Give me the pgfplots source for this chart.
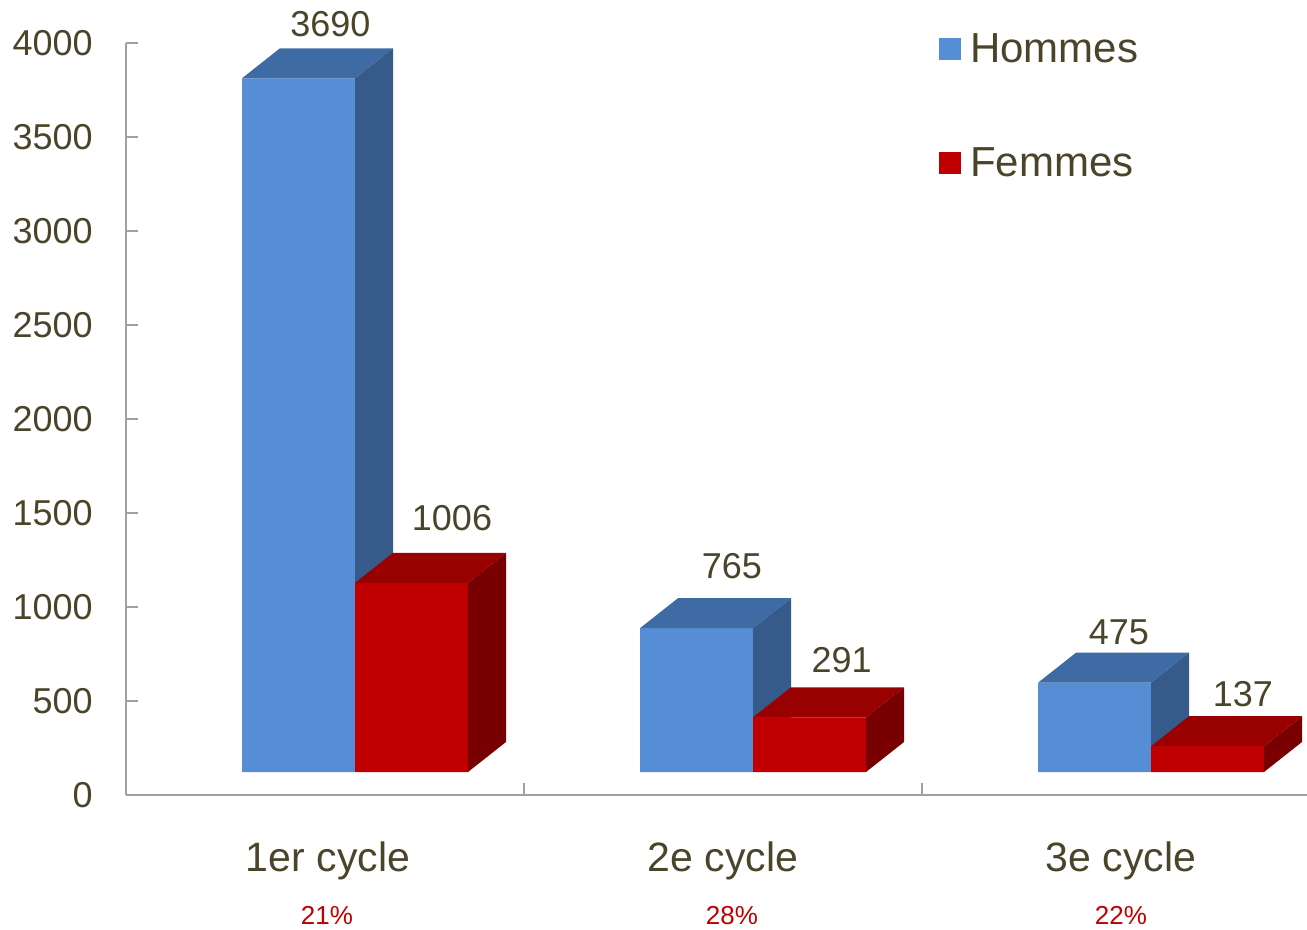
\documentclass[border=0pt]{standalone}
\usepackage{fontspec}
\setmainfont{Liberation Sans}
\usepackage{pgfplots}
\usepackage{pgfplotstable}
\pgfplotsset{compat=1.18}
\definecolor{hfront}{HTML}{558ED5}
\definecolor{htop}{HTML}{3F6BA5}
\definecolor{hside}{HTML}{365B8B}
\definecolor{ffront}{HTML}{C00000}
\definecolor{ftop}{HTML}{990000}
\definecolor{fside}{HTML}{780000}
\definecolor{textcol}{HTML}{4A452A}
\definecolor{axgray}{HTML}{A0A0A0}
\definecolor{pctred}{HTML}{C00000}

% values, and label offsets (pt) for the value labels
\pgfplotstableread{
x H F hdx hdy fdx fdy
0 3690 1006 2.65 27.3 63.5 32.55
1 765 291 4.4 30.95 59.35 28.65
2 475 137 -1.1 25.25 60.9 26.0
}\datatable

% 3D top and side faces, drawn at the top of each bar
\pgfdeclareplotmark{boxH}{%
  \pgfmathsetmacro\hh{\barh*0.094}%
  \pgfsetfillcolor{htop}%
  \pgfpathmoveto{\pgfpoint{-41.5pt}{0pt}}%
  \pgfpathlineto{\pgfpoint{15pt}{0pt}}%
  \pgfpathlineto{\pgfpoint{34pt}{15pt}}%
  \pgfpathlineto{\pgfpoint{-22.5pt}{15pt}}%
  \pgfpathclose\pgfusepath{fill}%
  \pgfsetfillcolor{hside}%
  \pgfpathmoveto{\pgfpoint{15pt}{0pt}}%
  \pgfpathlineto{\pgfpoint{34pt}{15pt}}%
  \pgfpathlineto{\pgfpoint{34pt}{15pt-\hh pt}}%
  \pgfpathlineto{\pgfpoint{15pt}{-\hh pt}}%
  \pgfpathclose\pgfusepath{fill}%
}
\pgfdeclareplotmark{boxF}{%
  \pgfmathsetmacro\hh{\barh*0.094}%
  \pgfsetfillcolor{ftop}%
  \pgfpathmoveto{\pgfpoint{15pt}{0pt}}%
  \pgfpathlineto{\pgfpoint{71.5pt}{0pt}}%
  \pgfpathlineto{\pgfpoint{90.5pt}{15pt}}%
  \pgfpathlineto{\pgfpoint{34pt}{15pt}}%
  \pgfpathclose\pgfusepath{fill}%
  \pgfsetfillcolor{fside}%
  \pgfpathmoveto{\pgfpoint{71.5pt}{0pt}}%
  \pgfpathlineto{\pgfpoint{90.5pt}{15pt}}%
  \pgfpathlineto{\pgfpoint{90.5pt}{15pt-\hh pt}}%
  \pgfpathlineto{\pgfpoint{71.5pt}{-\hh pt}}%
  \pgfpathclose\pgfusepath{fill}%
}

\begin{document}
\begin{tikzpicture}
\begin{axis}[
  name=ax,
  x=199pt, y=0.094pt,
  xmin=-0.5, xmax=2.467,
  ymin=-122.3, ymax=3877.7,
  clip=false,
  clip marker paths=true,
  axis lines*=left,
  axis line style={axgray, line width=1.2pt},
  tick align=inside,
  major tick length=6pt,
  tick style={axgray, line width=1pt},
  scaled y ticks=false,
  ytick={-122.3,377.7,877.7,1377.7,1877.7,2377.7,2877.7,3377.7,3877.7},
  yticklabels={0,500,1000,1500,2000,2500,3000,3500,4000},
  yticklabel style={font=\fontsize{18}{20}\selectfont, text=textcol, inner sep=0pt, xshift=-16.5pt},
  xtick={0.5,1.5}, xticklabels={},
  extra x ticks={0,1,2},
  extra x tick labels={{\hspace*{3pt}1er cycle\\{\fontsize{13}{15}\selectfont\color{pctred}\hspace*{2pt}21\%}},
                       {2e cycle\\{\fontsize{13}{15}\selectfont\color{pctred}\hspace*{9pt}28\%}},
                       {3e cycle\\{\fontsize{13}{15}\selectfont\color{pctred}22\%}}},
  extra x tick style={major tick length=0pt},
  xticklabel style={align=center, font=\fontsize{20.5}{26.5}\selectfont, text=textcol, anchor=north, inner sep=0pt, yshift=-23pt},
  /pgf/number format/1000 sep={},
  /pgf/number format/assume math mode=true,
  legend image code/.code={\fill[#1] (0pt,-5.5pt) rectangle (11pt,5.5pt);},
  legend style={draw=none, fill=none, at={(0.6833,1.0186)}, anchor=north west,
    font=\fontsize{21}{24}\selectfont, text=textcol, row sep=41pt, column sep=4.5pt,
    nodes={inner sep=0pt}},
  legend cell align=left,
]
% Hommes
\addplot[ybar, bar width=56.5pt, bar shift=-13.25pt, fill=hfront, draw=none, forget plot,
  visualization depends on={\thisrow{hdx} \as \ldx},
  visualization depends on={\thisrow{hdy} \as \ldy},
  nodes near coords,
  every node near coord/.append style={font=\fontsize{18}{20}\selectfont, text=textcol, anchor=center, xshift=\ldx pt, yshift=\ldy pt}]
  table[x=x, y=H] {\datatable};
\addplot[only marks, mark=boxH, forget plot,
  visualization depends on={\thisrow{H} \as \barh}]
  table[x=x, y=H] {\datatable};
% Femmes
\addplot[ybar, bar width=56.5pt, bar shift=43.25pt, fill=ffront, draw=none, forget plot,
  visualization depends on={\thisrow{fdx} \as \ldx},
  visualization depends on={\thisrow{fdy} \as \ldy},
  nodes near coords,
  every node near coord/.append style={font=\fontsize{18}{20}\selectfont, text=textcol, anchor=center, xshift=\ldx pt, yshift=\ldy pt}]
  table[x=x, y=F] {\datatable};
\addplot[only marks, mark=boxF, forget plot,
  visualization depends on={\thisrow{F} \as \barh}]
  table[x=x, y=F] {\datatable};
\addlegendimage{fill=hfront, draw=none}
\addlegendentry{Hommes}
\addlegendimage{fill=ffront, draw=none}
\addlegendentry{Femmes}
\end{axis}
\pgfresetboundingbox
\useasboundingbox ([shift={(-63pt,-67.5pt)}]ax.south west) rectangle ([shift={(590.5pt,397.5pt)}]ax.south west);
\end{tikzpicture}
\end{document}
